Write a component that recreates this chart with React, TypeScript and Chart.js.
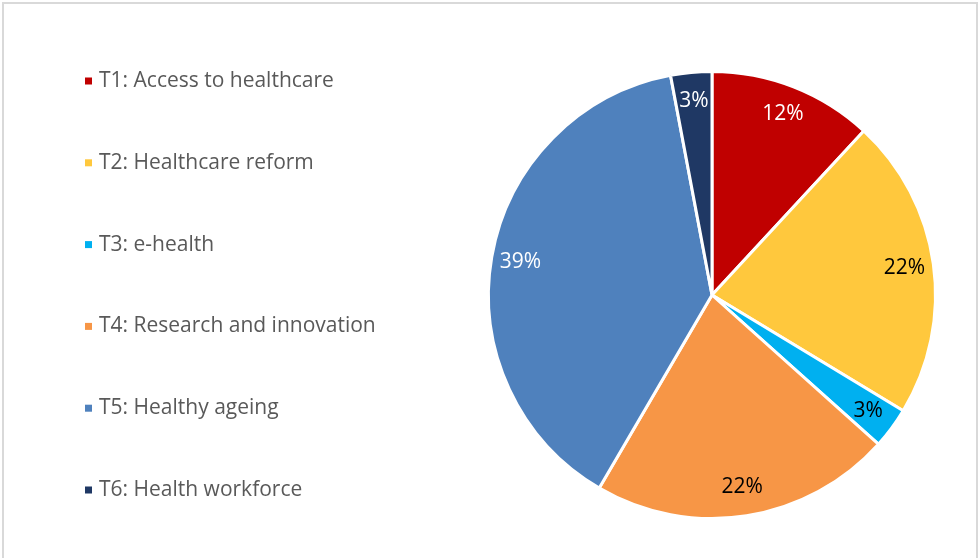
import React, { useEffect, useRef } from "react";
import { Chart, registerables } from "chart.js";

Chart.register(...registerables);

const categories = [
  "T1: Access to healthcare",
  "T2: Healthcare reform",
  "T3: e-health",
  "T4: Research and innovation",
  "T5: Healthy ageing",
  "T6: Health workforce",
];
const shares = [12, 22, 3, 22, 39, 3];
const sliceColors = ["#C00000", "#FFC83D", "#00B0F0", "#F79646", "#4F81BD", "#1F3864"];
const labelColors = ["#FFFFFF", "#000000", "#000000", "#000000", "#FFFFFF", "#FFFFFF"];

const FONT = "'Open Sans', Lato, sans-serif";

const framePlugin = {
  id: "frame",
  beforeDraw(chart: any) {
    const ctx = chart.ctx;
    ctx.save();
    ctx.fillStyle = "#FFFFFF";
    ctx.fillRect(0, 0, chart.width, chart.height);
    ctx.strokeStyle = "#D9D9D9";
    ctx.lineWidth = 2;
    ctx.strokeRect(3, 3, chart.width - 5, chart.height + 10);
    ctx.restore();
  },
};

const legendPlugin = {
  id: "sideLegend",
  afterDraw(chart: any) {
    const ctx = chart.ctx;
    const labels = chart.data.labels as string[];
    const colors = chart.data.datasets[0].backgroundColor as string[];
    ctx.save();
    ctx.font = `21px ${FONT}`;
    ctx.textBaseline = "middle";
    ctx.textAlign = "left";
    labels.forEach((lab, i) => {
      const y = 81 + i * 81.8;
      ctx.fillStyle = colors[i];
      ctx.fillRect(85, y - 3.5, 7, 7);
      ctx.fillStyle = "#595959";
      ctx.fillText(lab, 99, y);
    });
    ctx.restore();
  },
};

const dataLabelPlugin = {
  id: "sliceLabels",
  afterDatasetsDraw(chart: any) {
    const ctx = chart.ctx;
    const meta = chart.getDatasetMeta(0);
    const values = chart.data.datasets[0].data as number[];
    ctx.save();
    ctx.font = `21px ${FONT}`;
    ctx.textAlign = "center";
    ctx.textBaseline = "middle";
    meta.data.forEach((arc: any, i: number) => {
      const p = arc.getProps(["x", "y", "startAngle", "endAngle", "outerRadius"], true);
      const mid = (p.startAngle + p.endAngle) / 2;
      const r = p.outerRadius * 0.87;
      ctx.fillStyle = labelColors[i];
      ctx.fillText(`${values[i]}%`, p.x + Math.cos(mid) * r, p.y + Math.sin(mid) * r);
    });
    ctx.restore();
  },
};

export default function App() {
  const ref = useRef<HTMLCanvasElement | null>(null);
  useEffect(() => {
    document.body.style.margin = "0";
    if (!ref.current) return;
    const chart = new Chart(ref.current, {
      type: "pie",
      data: {
        labels: categories,
        datasets: [
          {
            data: shares,
            backgroundColor: sliceColors,
            borderColor: "#FFFFFF",
            borderWidth: 3,
          },
        ],
      },
      options: {
        animation: false,
        responsive: false,
        layout: { padding: { left: 487, right: 42, top: 70, bottom: 38 } },
        plugins: {
          legend: { display: false },
          tooltip: { enabled: false },
        },
      },
      plugins: [framePlugin, legendPlugin, dataLabelPlugin],
    });
    return () => chart.destroy();
  }, []);
  return (
    <div style={{ position: "absolute", left: 0, top: 0, width: 979, height: 558 }}>
      <canvas ref={ref} width={979} height={558} style={{ width: 979, height: 558, display: "block" }} />
    </div>
  );
}
